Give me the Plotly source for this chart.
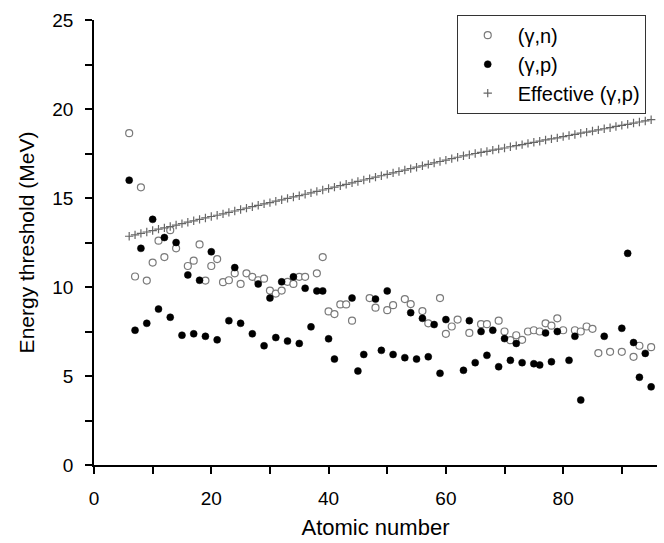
import plotly.graph_objects as go

# (gamma,n) thresholds, open circles
z_gn = [6, 7, 8, 9, 10, 11, 12, 13, 14, 16, 17, 18, 19, 20, 21, 22, 23, 24, 25, 26,
        27, 28, 29, 30, 31, 32, 33, 34, 35, 36, 38, 39, 40, 41, 42, 43, 44, 47, 48, 50,
        51, 53, 54, 56, 57, 59, 60, 61, 62, 64, 66, 67, 69, 70, 71, 72, 73, 74, 75, 76,
        77, 78, 79, 80, 82, 83, 84, 85, 86, 88, 90, 92, 93, 95]
e_gn = [18.64, 10.59, 15.6, 10.36, 11.37, 12.6, 11.68, 13.19, 12.17, 11.18, 11.48, 12.39, 10.36, 11.18,
        11.57, 10.27, 10.38, 10.77, 10.17, 10.77, 10.57, 10.38, 10.47, 9.8, 9.63, 9.8, 10.29, 10.17,
        10.57, 10.57, 10.77, 11.68, 8.63, 8.48, 9.02, 9.02, 8.11, 9.38, 8.84, 8.7, 8.98, 9.32, 9.04,
        8.65, 7.96, 9.38, 7.37, 7.78, 8.17, 7.42, 7.91, 7.91, 8.11, 7.5, 7.01, 7.29, 7.03, 7.5, 7.57,
        7.5, 7.96, 7.83, 8.24, 7.57, 7.57, 7.5, 7.78, 7.65, 6.29, 6.36, 6.36, 6.08, 6.7, 6.62]

# (gamma,p) thresholds, filled circles
z_gp = [6, 7, 8, 9, 10, 11, 12, 13, 14, 15, 16, 17, 18, 19, 20, 21, 23, 24, 25, 27,
        28, 29, 30, 31, 32, 33, 34, 35, 36, 37, 38, 39, 40, 41, 44, 45, 46, 48, 49, 50,
        51, 53, 54, 55, 56, 57, 58, 59, 60, 63, 64, 65, 66, 67, 68, 69, 70, 71, 72, 73,
        75, 76, 77, 78, 79, 81, 82, 83, 87, 90, 91, 92, 93, 94, 95]
e_gp = [16.0, 7.57, 12.17, 7.96, 13.8, 8.76, 12.78, 8.3, 12.5, 7.29, 10.68, 7.37, 10.38, 7.23, 11.98,
        7.03, 8.11, 11.09, 7.96, 7.37, 10.17, 6.7, 9.38, 7.16, 10.29, 6.96, 10.57, 6.83, 9.93, 7.76,
        9.78, 9.78, 7.09, 5.95, 9.38, 5.28, 6.21, 9.32, 6.44, 9.78, 6.21, 6.03, 8.56, 5.95, 8.24, 6.08,
        7.89, 5.15, 8.17, 5.32, 8.11, 5.75, 7.5, 6.16, 7.57, 5.52, 7.1, 5.88, 6.83, 5.75, 5.69, 5.62,
        7.42, 5.8, 7.5, 5.88, 7.23, 3.65, 7.23, 7.68, 11.89, 6.88, 4.93, 6.27, 4.39]

# effective (gamma,p) thresholds, Z = 6 ... 95
z_eff = list(range(6, 96))
e_eff = [12.85, 12.93, 13.01, 13.09, 13.17, 13.25, 13.32, 13.40, 13.48, 13.56,
         13.64, 13.72, 13.80, 13.88, 13.96, 14.03, 14.11, 14.19, 14.27, 14.35,
         14.43, 14.51, 14.59, 14.67, 14.74, 14.82, 14.90, 14.98, 15.06, 15.13,
         15.21, 15.29, 15.37, 15.45, 15.53, 15.61, 15.69, 15.77, 15.85, 15.93,
         16.01, 16.09, 16.17, 16.25, 16.33, 16.41, 16.49, 16.57, 16.65, 16.73,
         16.81, 16.89, 16.97, 17.05, 17.13, 17.21, 17.29, 17.37, 17.43, 17.50,
         17.56, 17.62, 17.69, 17.75, 17.81, 17.88, 17.94, 18.00, 18.07, 18.13,
         18.19, 18.26, 18.32, 18.38, 18.45, 18.51, 18.57, 18.64, 18.70, 18.76,
         18.83, 18.89, 18.95, 19.02, 19.08, 19.14, 19.21, 19.27, 19.33, 19.40]

font = "Liberation Sans, Arial, sans-serif"

fig = go.Figure()
fig.add_trace(go.Scatter(x=z_gn, y=e_gn, mode="markers", name="(γ,n)",
                         marker=dict(symbol="circle", size=7, color="white",
                                     line=dict(color="#7a7a7a", width=1.2))))
fig.add_trace(go.Scatter(x=z_gp, y=e_gp, mode="markers", name="(γ,p)",
                         marker=dict(symbol="circle", size=7, color="black",
                                     line=dict(color="black", width=0.5))))
fig.add_trace(go.Scatter(x=z_eff, y=e_eff, mode="markers", name="Effective (γ,p)",
                         marker=dict(symbol="cross-thin-open", size=6, color="#666666",
                                     line=dict(color="#666666", width=1.2))))

axis_common = dict(showline=True, linecolor="black", linewidth=1.5, ticks="outside",
                   ticklen=7, tickwidth=1.5, tickcolor="black", showgrid=False,
                   zeroline=False, mirror=False,
                   tickfont=dict(family=font, size=19, color="black"))

fig.update_xaxes(range=[0, 96], tickvals=[0, 20, 40, 60, 80],
                 minor=dict(tickvals=[10, 30, 50, 70, 90], ticklen=7, tickwidth=1.5,
                            tickcolor="black", ticks="outside"),
                 title=dict(text="Atomic number", font=dict(family=font, size=22, color="black"),
                            standoff=12),
                 ticklabelstandoff=8, **axis_common)
fig.update_yaxes(range=[0, 25], tickvals=[0, 5, 10, 15, 20, 25],
                 minor=dict(tickvals=[2.5, 7.5, 12.5, 17.5, 22.5], ticklen=7, tickwidth=1.5,
                            tickcolor="black", ticks="outside"),
                 title=dict(text="Energy threshold (MeV)", font=dict(family=font, size=21, color="black"),
                            standoff=12),
                 ticklabelstandoff=8, **axis_common)

fig.update_layout(width=664, height=543, margin=dict(l=94, r=7, t=20, b=75),
                  plot_bgcolor="white", paper_bgcolor="white",
                  legend=dict(x=0.98, y=1.012, xanchor="right", yanchor="top",
                              bordercolor="#333333", borderwidth=1, bgcolor="white",
                              font=dict(family=font, size=20, color="black"),
                              itemwidth=50, tracegroupgap=0),
                  showlegend=True)

# drop the default 8px page margin so the figure sits at the window's corner
fig.write_html("out.html", config={"displayModeBar": False},
               post_script="document.body.style.margin='0';")
